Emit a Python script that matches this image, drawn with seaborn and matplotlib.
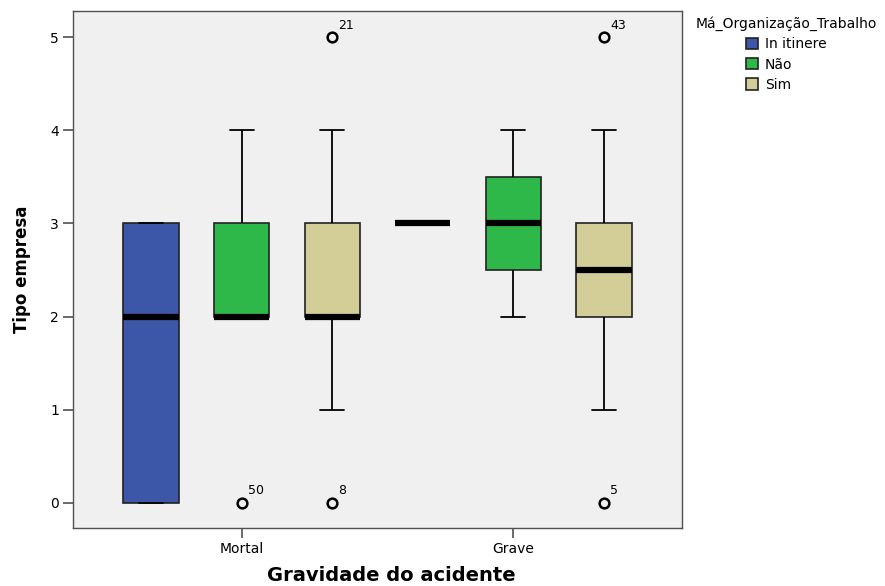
import pandas as pd
import numpy as np
import matplotlib
matplotlib.use("Agg")
import matplotlib.pyplot as plt
import seaborn as sns

# Categories
gravidade = ["Mortal", "Grave"]
organizacao = ["In itinere", "Não", "Sim"]
cores = ["#3C56A8", "#2FB84A", "#D3CE98"]

mortal_itinere = [0, 0, 2, 3, 3]
mortal_nao = [0, 2, 2, 2, 2, 2, 3, 3, 4]
mortal_sim = [0, 1, 2, 2, 2, 2, 2, 3, 3, 3, 3, 4, 5]
grave_itinere = [3, 3]
grave_nao = [2, 3, 4]
grave_sim = [0, 1, 2, 2, 2, 3, 3, 3, 4, 5]

# Outlier case labels
out_grav = ["Mortal", "Mortal", "Mortal", "Grave", "Grave"]
out_org = ["Não", "Sim", "Sim", "Sim", "Sim"]
out_val = [0, 0, 5, 0, 5]
out_case = ["50", "8", "21", "5", "43"]

groups = {
    ("Mortal", "In itinere"): mortal_itinere,
    ("Mortal", "Não"): mortal_nao,
    ("Mortal", "Sim"): mortal_sim,
    ("Grave", "In itinere"): grave_itinere,
    ("Grave", "Não"): grave_nao,
    ("Grave", "Sim"): grave_sim,
}
rows = []
for (g, o), vals in groups.items():
    for v in vals:
        rows.append({"Gravidade do acidente": g, "Má_Organização_Trabalho": o, "Tipo empresa": v})
df = pd.DataFrame(rows)

sns.set_style("ticks")
plt.rcParams['font.family'] = ['DejaVu Sans']
plt.rcParams['text.color'] = 'black'
plt.rcParams['axes.labelcolor'] = 'black'

fig = plt.figure(figsize=(8.85, 5.86), dpi=100)
ax = fig.add_axes([0.0825, 0.099, 0.688, 0.882])
ax.set_facecolor("#F0F0F0")

box_width = 1.0
sns.boxplot(data=df, x="Gravidade do acidente", y="Tipo empresa",
            hue="Má_Organização_Trabalho", order=gravidade, hue_order=organizacao,
            palette=cores, saturation=1, width=box_width, gap=0.39,
            linecolor="#222222", linewidth=1.2, whis=1.5,
            medianprops=dict(color="black", linewidth=4.5, solid_capstyle="butt"),
            whiskerprops=dict(color="black", linewidth=1.3),
            capprops=dict(color="black", linewidth=1.3),
            flierprops=dict(marker="o", markerfacecolor="none", markeredgecolor="black",
                            markeredgewidth=1.8, markersize=7),
            capwidths=0.088,
            ax=ax)

# case numbers next to outliers
step = box_width / len(organizacao)
for g, o, v, c in zip(out_grav, out_org, out_val, out_case):
    xpos = gravidade.index(g) + (organizacao.index(o) - 1) * step
    ax.annotate(c, (xpos, v), xytext=(4.5, 4), textcoords="offset points",
                fontsize=9, ha="left", va="bottom")

ax.set_xlim(-0.62, 1.62)
ax.set_ylim(-0.27, 5.28)
ax.set_yticks([0, 1, 2, 3, 4, 5])
for s in ax.spines.values():
    s.set_visible(True)
    s.set_color("#505050")
    s.set_linewidth(1.0)
ax.tick_params(axis="both", length=7, width=1.2, color="#505050", labelsize=10, pad=3,
               labelcolor="black")
ax.set_xlabel("Gravidade do acidente", fontsize=14, fontweight="bold", labelpad=7)
ax.xaxis.label.set_x(0.522)
ax.set_ylabel("Tipo empresa", fontsize=12, fontweight="bold", labelpad=14)

handles, labels = ax.get_legend_handles_labels()
ax.get_legend().remove()
fig.legend(handles, labels, title="Má_Organização_Trabalho", loc="upper left",
           bbox_to_anchor=(0.786, 0.972), frameon=False, fontsize=10, title_fontsize=10,
           handlelength=0.85, handleheight=0.85, handletextpad=0.5, labelspacing=0.45,
           borderpad=0, borderaxespad=0)

plt.savefig("out.png", dpi=100)
